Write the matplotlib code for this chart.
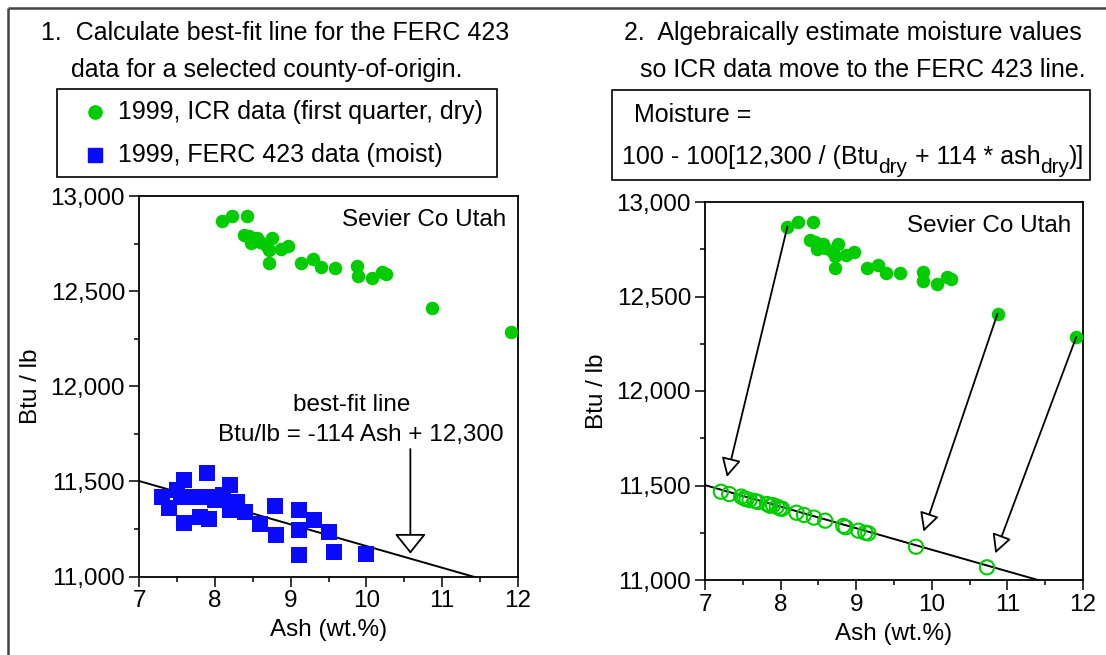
import matplotlib
matplotlib.use('Agg')
import matplotlib.pyplot as plt
from matplotlib.patches import Rectangle
from matplotlib.lines import Line2D
from matplotlib.ticker import FuncFormatter, MultipleLocator

plt.rcParams['font.family'] = ['Liberation Sans', 'DejaVu Sans']
plt.rcParams['font.size'] = 18

# ICR data (first quarter, dry)
ash_icr = [8.09, 8.23, 8.43, 8.39, 8.45, 8.56, 8.48, 8.59, 8.76, 8.68, 8.72, 8.72,
           8.87, 8.97, 9.14, 9.29, 9.40, 9.58, 9.88, 9.89, 10.07, 10.20, 10.26, 10.87, 11.91]
btu_icr = [12870, 12895, 12893, 12797, 12790, 12778, 12752, 12757, 12778, 12740, 12714, 12650,
           12722, 12735, 12650, 12668, 12625, 12623, 12630, 12580, 12568, 12603, 12590, 12410, 12285]

# FERC 423 data (moist)
ash_ferc = [7.31, 7.40, 7.50, 7.60, 7.60, 7.55, 7.70, 7.90, 7.81, 7.93, 7.90, 8.00, 8.11, 8.20,
            8.20, 8.29, 8.40, 8.25, 8.60, 8.80, 8.81, 9.11, 9.11, 9.11, 9.31, 9.50, 9.57, 10.00]
btu_ferc = [11420, 11360, 11455, 11505, 11280, 11420, 11420, 11545, 11315, 11300, 11420, 11400,
            11430, 11480, 11350, 11390, 11340, 11360, 11275, 11370, 11220, 11350, 11245, 11115,
            11295, 11235, 11130, 11120]

# ICR data after moisture estimate (on the FERC 423 line)
ash_adj = [7.21, 7.32, 7.48, 7.52, 7.55, 7.59, 7.66, 7.70, 7.82, 7.86, 7.90, 7.95, 7.99,
           8.02, 8.21, 8.31, 8.44, 8.59, 8.83, 8.86, 9.03, 9.12, 9.16, 9.79, 10.73]
btu_adj = [11467, 11455, 11441, 11432, 11428, 11423, 11418, 11413, 11402, 11393, 11396, 11388,
           11379, 11377, 11356, 11344, 11330, 11314, 11286, 11279, 11261, 11250, 11247, 11176, 11067]

# best-fit line: Btu/lb = -114 Ash + 12,300
fit_slope = -114
fit_icept = 12300

# arrows in panel 2: (start, tip)
move_arrows = [((8.09, 12870), (7.29, 11545)),
               ((10.87, 12410), (9.89, 11256)),
               ((11.91, 12285), (10.84, 11141))]

GREEN = '#00cc00'
BLUE = '#0a0aff'

fig = plt.figure(figsize=(11.06, 6.55), dpi=100)

# background layer in pixel coords for frame, boxes and headings
bg = fig.add_axes([0, 0, 1, 1])
bg.set_xlim(0, 1106)
bg.set_ylim(655, 0)
bg.axis('off')
bg.plot([8, 8], [655, 8], color='#444444', lw=1.8, solid_capstyle='butt')
bg.plot([8, 1106], [8, 8], color='#444444', lw=1.8, solid_capstyle='butt')

# panel 1 heading + legend box
bg.text(41, 33, '1.  Calculate best-fit line for the FERC 423', va='center', ha='left')
bg.text(71, 70, 'data for a selected county-of-origin.', va='center', ha='left')
bg.add_patch(Rectangle((57, 89), 440, 88, fill=False, lw=1.2, ec='black'))
bg.add_line(Line2D([95], [112], marker='o', ms=9.5, color=GREEN, mec=GREEN, ls='none'))
bg.add_line(Line2D([95], [155], marker='s', ms=10, color=BLUE, mec=BLUE, ls='none'))
bg.text(118, 112, '1999, ICR data (first quarter, dry)', va='center', ha='left')
bg.text(118, 155, '1999, FERC 423 data (moist)', va='center', ha='left')

# panel 2 heading + formula box
bg.text(624, 33, '2.  Algebraically estimate moisture values', va='center', ha='left')
bg.text(640, 70, 'so ICR data move to the FERC 423 line.', va='center', ha='left')
bg.add_patch(Rectangle((612, 90), 478, 90, fill=False, lw=1.2, ec='black'))
bg.text(634, 115, 'Moisture =', va='center', ha='left')

# formula with real subscripts, laid out piece by piece
renderer = fig.canvas.get_renderer()
formula = [('100 - 100[12,300 / (Btu', False), ('dry', True),
           (' + 114 * ash', False), ('dry', True), (')]', False)]
fx = 622
for piece, is_sub in formula:
    t = bg.text(fx, 173 if is_sub else 164, piece, fontsize=15 if is_sub else 18,
                va='baseline', ha='left')
    fx += t.get_window_extent(renderer).width


def setup(ax):
    ax.set_xlim(7, 12)
    ax.set_ylim(11000, 13000)
    ax.xaxis.set_major_locator(MultipleLocator(1))
    ax.xaxis.set_minor_locator(MultipleLocator(0.5))
    ax.yaxis.set_major_locator(MultipleLocator(500))
    ax.yaxis.set_minor_locator(MultipleLocator(250))
    ax.yaxis.set_major_formatter(FuncFormatter(lambda v, p: f'{v:,.0f}'))
    ax.tick_params(which='major', direction='out', length=7, width=1.1, pad=3, labelsize=17.5)
    ax.tick_params(which='minor', direction='out', length=3.5, width=1.1)
    for s in ax.spines.values():
        s.set_linewidth(1.3)
    ax.set_xlabel('Ash (wt.%)', labelpad=5, fontsize=17.5)
    ax.set_ylabel('Btu / lb', labelpad=6, fontsize=17.5)
    ax.text(0.97, 0.965, 'Sevier Co Utah', transform=ax.transAxes, ha='right', va='top',
            fontsize=17.5)
    xs = [7, 12]
    ax.plot(xs, [fit_slope * x + fit_icept for x in xs], color='black', lw=1.4, zorder=2)


# panel 1
ax1 = fig.add_axes([139 / 1106, (655 - 576.5) / 655, 379 / 1106, 380.5 / 655])
setup(ax1)
ax1.scatter(ash_icr, btu_icr, s=95, color=GREEN, lw=0, zorder=3, clip_on=False)
ax1.scatter(ash_ferc, btu_ferc, s=130, marker='s', color=BLUE, lw=0, zorder=3)
ax1.text(9.8, 11900, 'best-fit line', ha='center', va='center', fontsize=17.5)
ax1.text(9.93, 11742, 'Btu/lb = -114 Ash + 12,300', ha='center', va='center', fontsize=17.5)
ax1.annotate('', xy=(10.58, 11120), xytext=(10.58, 11670),
             arrowprops=dict(arrowstyle='-|>,head_length=1.25,head_width=1.0',
                             mutation_scale=10, fc='white', ec='black', lw=1.3,
                             shrinkA=0, shrinkB=0))

# panel 2
ax2 = fig.add_axes([705 / 1106, (655 - 580) / 655, 378 / 1106, 378 / 655])
setup(ax2)
ax2.scatter(ash_icr, btu_icr, s=95, color=GREEN, lw=0, zorder=3, clip_on=False)
ax2.scatter(ash_adj, btu_adj, s=105, facecolors='none', edgecolors=GREEN, lw=1.5, zorder=3)
for start, tip in move_arrows:
    ax2.annotate('', xy=tip, xytext=start,
                 arrowprops=dict(arrowstyle='-|>,head_length=1.15,head_width=0.6',
                                 mutation_scale=10, fc='white', ec='black', lw=1.3,
                                 shrinkA=0, shrinkB=0), zorder=4)

fig.savefig('out.png', dpi=100)
